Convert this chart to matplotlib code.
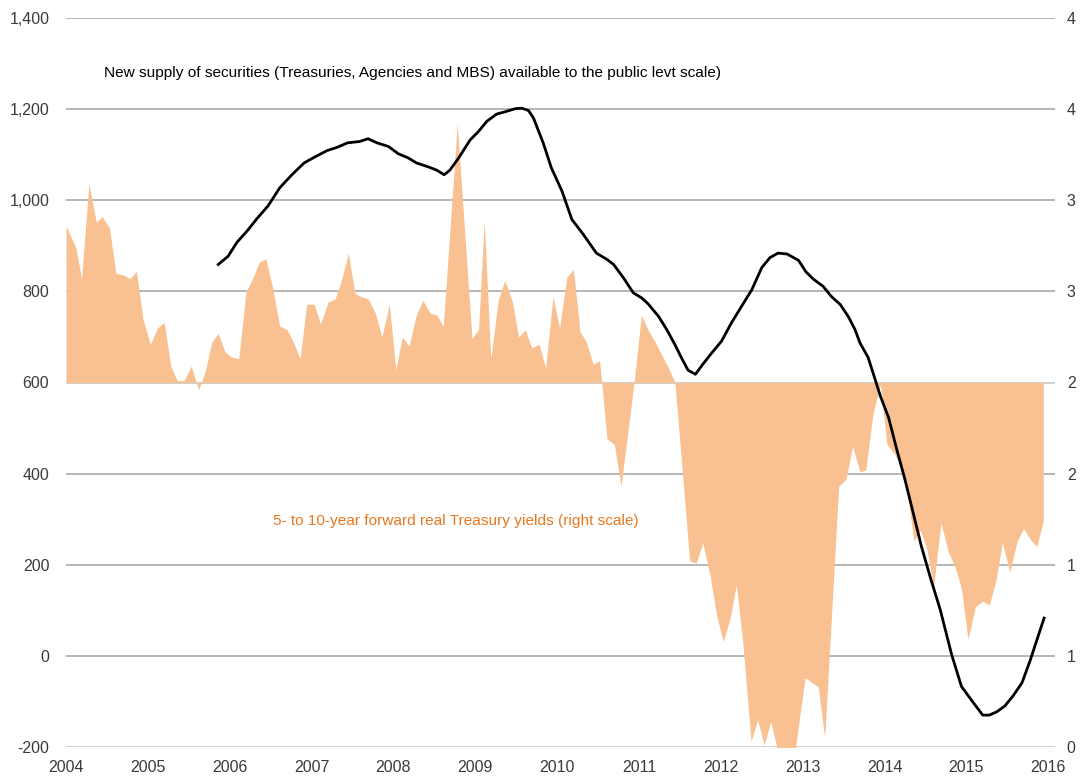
import matplotlib
matplotlib.use("Agg")
import matplotlib.pyplot as plt
from matplotlib import font_manager
from matplotlib.ticker import FixedLocator, FuncFormatter

# 5- to 10-year forward real Treasury yields (right scale), monthly-ish readings
yield_dates = [
    2004.00, 2004.12, 2004.19, 2004.28, 2004.37, 2004.44, 2004.53, 2004.61, 2004.70, 2004.78,
    2004.86, 2004.94, 2005.03, 2005.12, 2005.20, 2005.28, 2005.36, 2005.44, 2005.53, 2005.62,
    2005.70, 2005.78, 2005.86, 2005.94, 2006.02, 2006.11, 2006.20, 2006.28, 2006.36, 2006.44,
    2006.52, 2006.61, 2006.70, 2006.78, 2006.86, 2006.94, 2007.03, 2007.11, 2007.20, 2007.29,
    2007.37, 2007.45, 2007.53, 2007.61, 2007.69, 2007.78, 2007.86, 2007.95, 2008.03, 2008.11,
    2008.19, 2008.28, 2008.36, 2008.45, 2008.53, 2008.61, 2008.78, 2008.96, 2009.04, 2009.11,
    2009.19, 2009.28, 2009.36, 2009.45, 2009.53, 2009.61, 2009.69, 2009.78, 2009.86, 2009.95,
    2010.03, 2010.12, 2010.20, 2010.28, 2010.36, 2010.44, 2010.52, 2010.61, 2010.70, 2010.78,
    2010.86, 2010.94, 2011.03, 2011.11, 2011.20, 2011.28, 2011.36, 2011.44, 2011.62, 2011.70,
    2011.78, 2011.87, 2011.95, 2012.03, 2012.11, 2012.19, 2012.27, 2012.37, 2012.45, 2012.53,
    2012.61, 2012.71, 2012.89, 2012.95, 2013.03, 2013.19, 2013.27, 2013.44, 2013.53, 2013.61,
    2013.70, 2013.77, 2013.86, 2013.95, 2014.03, 2014.12, 2014.20, 2014.28, 2014.36, 2014.44,
    2014.52, 2014.60, 2014.69, 2014.78, 2014.86, 2014.94, 2015.02, 2015.11, 2015.20, 2015.28,
    2015.36, 2015.44, 2015.53, 2015.62, 2015.70, 2015.78, 2015.86, 2015.94,
]
yield_values = [
    2.86, 2.74, 2.57, 3.09, 2.88, 2.91, 2.85, 2.60, 2.59, 2.57,
    2.61, 2.35, 2.21, 2.30, 2.33, 2.09, 2.01, 2.01, 2.09, 1.96,
    2.06, 2.22, 2.27, 2.17, 2.14, 2.13, 2.50, 2.57, 2.66, 2.68,
    2.53, 2.31, 2.29, 2.22, 2.13, 2.43, 2.43, 2.32, 2.44, 2.46,
    2.57, 2.71, 2.49, 2.47, 2.46, 2.38, 2.25, 2.43, 2.07, 2.25,
    2.20, 2.37, 2.45, 2.38, 2.37, 2.31, 3.42, 2.24, 2.29, 2.89,
    2.13, 2.45, 2.56, 2.45, 2.25, 2.29, 2.19, 2.21, 2.08, 2.47,
    2.30, 2.58, 2.62, 2.28, 2.22, 2.10, 2.12, 1.69, 1.66, 1.43,
    1.71, 2.00, 2.37, 2.29, 2.22, 2.15, 2.08, 2.00, 1.02, 1.01,
    1.12, 0.94, 0.72, 0.58, 0.70, 0.89, 0.57, 0.03, 0.15, 0.01,
    0.14, -0.05, -0.08, 0.12, 0.38, 0.33, 0.05, 1.43, 1.47, 1.65,
    1.51, 1.52, 1.83, 1.99, 1.66, 1.61, 1.54, 1.39, 1.13, 1.19,
    1.08, 0.88, 1.23, 1.07, 0.99, 0.87, 0.59, 0.77, 0.80, 0.78,
    0.91, 1.12, 0.96, 1.13, 1.20, 1.14, 1.10, 1.24,
]
yield_base = 2.0

# New supply of securities available to the public (left scale, $bn)
supply_dates = [
    2005.86, 2005.98, 2006.09, 2006.21, 2006.33, 2006.47, 2006.61, 2006.76, 2006.91, 2007.04,
    2007.19, 2007.31, 2007.44, 2007.59, 2007.69, 2007.80, 2007.94, 2008.06, 2008.18, 2008.28,
    2008.43, 2008.53, 2008.62, 2008.69, 2008.79, 2008.94, 2009.04, 2009.14, 2009.26, 2009.38,
    2009.49, 2009.57, 2009.65, 2009.71, 2009.83, 2009.93, 2010.06, 2010.18, 2010.32, 2010.48,
    2010.61, 2010.69, 2010.81, 2010.93, 2011.03, 2011.11, 2011.24, 2011.34, 2011.44, 2011.52,
    2011.60, 2011.69, 2011.78, 2011.89, 2012.01, 2012.13, 2012.26, 2012.38, 2012.50, 2012.60,
    2012.70, 2012.81, 2012.95, 2013.04, 2013.13, 2013.25, 2013.35, 2013.46, 2013.56, 2013.64,
    2013.70, 2013.80, 2013.95, 2014.05, 2014.15, 2014.25, 2014.35, 2014.45, 2014.56, 2014.68,
    2014.82, 2014.94, 2015.07, 2015.20, 2015.28, 2015.37, 2015.47, 2015.57, 2015.68, 2015.78,
    2015.86, 2015.95,
]
supply_values = [
    859, 877, 908, 932, 959, 988, 1027, 1056, 1082, 1095,
    1109, 1116, 1126, 1129, 1135, 1126, 1118, 1102, 1093, 1082,
    1073, 1066, 1056, 1066, 1091, 1133, 1151, 1173, 1189, 1195,
    1201, 1202, 1197, 1181, 1126, 1071, 1020, 958, 925, 884,
    870, 859, 830, 797, 786, 773, 745, 716, 683, 654,
    627, 618, 640, 665, 691, 731, 769, 804, 852, 874,
    884, 882, 868, 843, 827, 811, 789, 771, 744, 716,
    687, 655, 570, 523, 453, 387, 314, 241, 172, 102,
    3, -67, -99, -130, -130, -123, -110, -88, -59, -10,
    34, 83,
]

years = list(range(2004, 2017))
left_ticks = list(range(-200, 1401, 200))
right_ticks = [0, 0.5, 1, 1.5, 2, 2.5, 3, 3.5, 4]

# narrow face if available
installed = {f.name for f in font_manager.fontManager.ttflist}
narrow = "Liberation Sans Narrow" if "Liberation Sans Narrow" in installed else "Liberation Sans"
plt.rcParams["font.family"] = [narrow, "DejaVu Sans"]

label_color = "#3a3a3a"
fill_color = "#f9c191"
text_orange = "#e8771f"

fig = plt.figure(figsize=(10.82, 7.80), dpi=100)
ax = fig.add_axes([66 / 1082, 1 - 747 / 780, (1055 - 66) / 1082, (747 - 18) / 780])
ax2 = ax.twinx()

x_max = 2004 + (1055 - 66) / 81.85
ax.set_xlim(2004, x_max)
ax.set_ylim(-200, 1400)
ax2.set_ylim(0, 4)

# gridlines on the left scale
for v in left_ticks:
    c = "#c4c4c4" if v in (-200, 600) else "#a3a3a3"
    ax.axhline(v, color=c, lw=1.1, zorder=0)

# area on the right scale, drawn above the grid
ax2.fill_between(yield_dates, yield_values, yield_base, color=fill_color, lw=0, zorder=2)
ax2.plot(supply_dates, [(v + 200) / 400 for v in supply_values], color="black", lw=2.0,
         zorder=3, solid_joinstyle="round")

ax.set_yticks(left_ticks)
ax.yaxis.set_major_formatter(FuncFormatter(lambda v, p: f"{int(v):,}"))
ax2.yaxis.set_major_locator(FixedLocator(right_ticks))
ax2.yaxis.set_major_formatter(FuncFormatter(lambda v, p: str(int(v + 0.5))))
ax.set_xticks(years)
ax.set_xticklabels([str(y) for y in years])

for a in (ax, ax2):
    for s in a.spines.values():
        s.set_visible(False)
    a.tick_params(length=0, labelsize=11.5, colors=label_color)
ax.tick_params(axis="y", pad=12)
ax2.tick_params(axis="y", pad=8.5)
ax.tick_params(axis="x", pad=9)

ax.text(2004.46, 1280, "New supply of securities (Treasuries, Agencies and MBS) available to the public levt scale)",
        fontsize=11.1, color="black", va="center", ha="left", zorder=5)
ax.text(2006.53, 295, "5- to 10-year forward real Treasury yields (right scale)",
        fontsize=11.1, color=text_orange, va="center", ha="left", zorder=5)

fig.savefig("out.png", dpi=100)
